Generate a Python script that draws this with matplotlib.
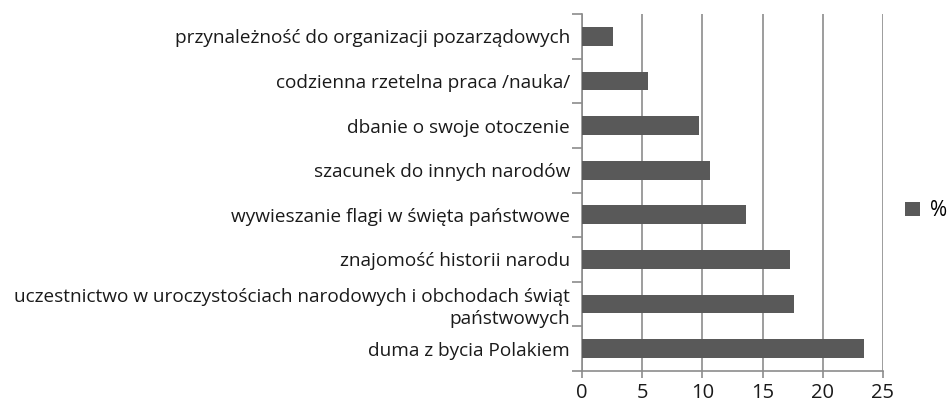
import matplotlib
matplotlib.use("Agg")
import matplotlib.pyplot as plt
from matplotlib.patches import Patch

categories = [
    "duma z bycia Polakiem",
    "uczestnictwo w uroczystościach narodowych i obchodach świąt\npaństwowych",
    "znajomość historii narodu",
    "wywieszanie flagi w święta państwowe",
    "szacunek do innych narodów",
    "dbanie o swoje otoczenie",
    "codzienna rzetelna praca /nauka/",
    "przynależność do organizacji pozarządowych",
]
values = [23.45, 17.58, 17.3, 13.65, 10.66, 9.75, 5.45, 2.55]
xticks = [0, 5, 10, 15, 20, 25]
series_name = "%"

plt.rcParams['font.family'] = ['Open Sans', 'DejaVu Sans']

fig = plt.figure(figsize=(9.49, 4.03), dpi=100)
ax = fig.add_axes([582/949, 1-371/403, (883-582)/949, (371-14)/403])

bar_color = "#595959"
grid_color = "#8c8c8c"

ypos = list(range(len(categories)))
ax.barh(ypos, values, height=0.42, color=bar_color, zorder=3)

ax.set_xlim(0, 25)
ax.set_ylim(-0.5, len(categories) - 0.5)
ax.set_xticks(xticks)
ax.set_xticklabels([str(t) for t in xticks], fontsize=14.5)
ax.set_yticks(ypos)
ax.set_yticklabels(categories, fontsize=13.7)
for lab in ax.get_yticklabels():
    lab.set_multialignment('right')
    lab.set_linespacing(1.25)
ax.set_yticks([y - 0.5 for y in range(len(categories) + 1)], minor=True)

ax.tick_params(axis='y', which='major', length=0, pad=8.5, colors='#1a1a1a')
ax.tick_params(axis='y', which='minor', length=7, width=1.2, color=grid_color)
ax.tick_params(axis='x', which='major', length=5, width=1.2, color=grid_color, labelcolor='#1a1a1a', pad=4)

ax.grid(axis='x', color=grid_color, linewidth=1.2, zorder=0)
for side in ['top', 'right']:
    ax.spines[side].set_visible(False)
for side in ['left', 'bottom']:
    ax.spines[side].set_color(grid_color)
    ax.spines[side].set_linewidth(1.2)

handles = [Patch(facecolor=bar_color, label=series_name)]
fig.legend(handles=handles, loc='center left', bbox_to_anchor=(905/949, 1-211/403),
           frameon=False, fontsize=15, handlelength=0.7, handleheight=0.7,
           handletextpad=0.5, borderaxespad=0, borderpad=0)

fig.savefig("out.png", dpi=100)
